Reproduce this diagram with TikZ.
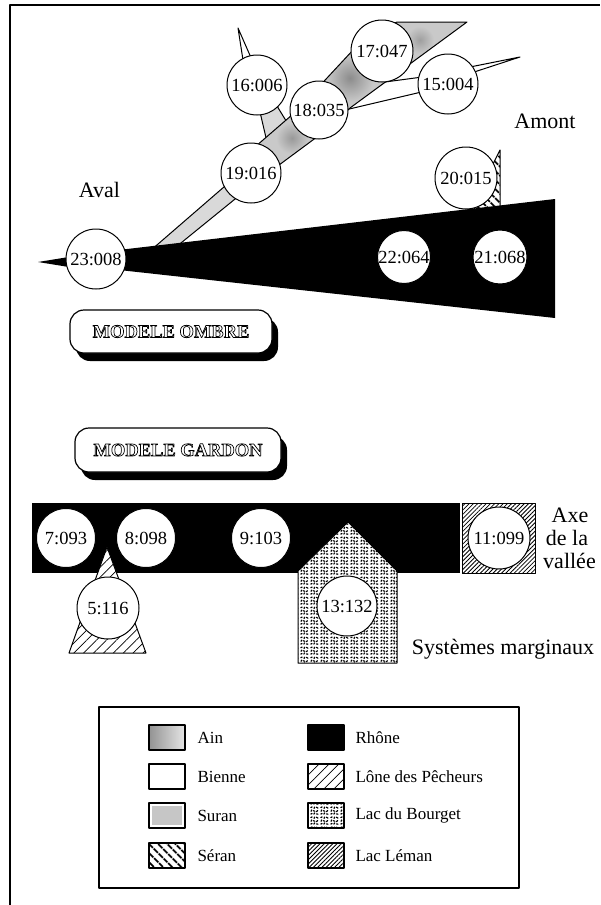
\documentclass[tikz,border=0pt]{standalone}
\usepackage{fontspec}
\setmainfont{Liberation Serif}
\usetikzlibrary{patterns.meta,shadows}

\tikzdeclarepattern{
  name=bourget,
  bounding box={(0pt,0pt) and (10pt,10pt)},
  tile size={(10pt,10pt)},
  code={
    \pgfsetlinewidth{1.3pt}
    \pgfsetroundcap
    \pgfpathmoveto{\pgfpoint{0.9pt}{1.0pt}}\pgfpathlineto{\pgfpoint{2.2pt}{1.6pt}}
    \pgfpathmoveto{\pgfpoint{4.2pt}{0.9pt}}\pgfpathlineto{\pgfpoint{4.9pt}{2.3pt}}
    \pgfpathmoveto{\pgfpoint{7.0pt}{1.2pt}}\pgfpathlineto{\pgfpoint{8.6pt}{0.9pt}}
    \pgfpathmoveto{\pgfpoint{1.2pt}{4.0pt}}\pgfpathlineto{\pgfpoint{1.8pt}{5.4pt}}
    \pgfpathmoveto{\pgfpoint{3.6pt}{4.6pt}}\pgfpathlineto{\pgfpoint{5.1pt}{4.1pt}}
    \pgfpathmoveto{\pgfpoint{6.9pt}{3.6pt}}\pgfpathlineto{\pgfpoint{8.2pt}{4.7pt}}
    \pgfpathmoveto{\pgfpoint{0.9pt}{8.0pt}}\pgfpathlineto{\pgfpoint{2.3pt}{8.6pt}}
    \pgfpathmoveto{\pgfpoint{4.4pt}{7.0pt}}\pgfpathlineto{\pgfpoint{4.9pt}{8.5pt}}
    \pgfpathmoveto{\pgfpoint{6.9pt}{8.4pt}}\pgfpathlineto{\pgfpoint{8.6pt}{7.4pt}}
    \pgfusepath{stroke}
  }
}

\newcommand\outlinetext[1]{\special{pdf:literal direct 1 Tr 0.7 w}#1\special{pdf:literal direct 0 Tr}}

\begin{document}
\begin{tikzpicture}[x=1pt,y=-1pt,line width=1pt,line join=round,
  circ/.style={circle,draw,fill=white,inner sep=0pt,font=\fontsize{18.5}{20}\selectfont},
  big/.style={font=\fontsize{22}{24}\selectfont,inner sep=0pt,anchor=base},
  engr/.style={font=\fontsize{18.5}{20}\selectfont\bfseries,inner sep=0pt},
  mbox/.style={rectangle,rounded corners=14pt,draw,fill=white,line width=1.2pt,inner sep=0pt,
     drop shadow={shadow xshift=6pt,shadow yshift=-8pt,fill=black,opacity=1}},
  lone/.style={preaction={fill=white},pattern={Lines[angle=45,distance=7pt,line width=0.7pt]}},
  seran/.style={preaction={fill=white},pattern={Lines[angle=-45,distance=6.5pt,line width=2.2pt]}},
  leman/.style={preaction={fill=white},pattern={Lines[angle=45,distance=3pt,line width=0.8pt]}},
  bourg/.style={preaction={fill=white},pattern=bourget},
  suran/.style={fill=gray!30},
  sw/.style={draw,line width=1.2pt,minimum width=36pt,minimum height=25pt,inner sep=0pt},
  leg/.style={font=\fontsize{17}{19}\selectfont,anchor=west,inner sep=0pt}]
\useasboundingbox (0,0) rectangle (600,905);

% frame
\draw[line width=1.2pt] (10,905) -- (10,5) -- (600,5);

% ---------- MODELE OMBRE (top) ----------
% Bienne band 15 -> 18
\draw[fill=white] (345,110) -- (385,82) -- (430,76) -- (430,90) -- cycle;
% Suran quad below 16
\draw[suran] (260,112) -- (267,142) -- (288,124) -- (277,106) -- cycle;
% Suran band 23 -> 19
\draw[suran] (150,251) -- (232,180) -- (240,195) -- (176,247) -- cycle;
% Ain
\begin{scope}
\clip (248,153) -- (300,108) -- (314,92) -- (367,35) -- (397,22) -- (467,22) -- (350,108) -- (325,131) -- (275,168) -- cycle;
\fill[gray!42] (240,10) rectangle (480,180);
\shade[inner color=gray!90,outer color=gray!42] (350,78) circle (24);
\shade[inner color=gray!80,outer color=gray!42] (292,138) circle (16);
\shade[inner color=gray!75,outer color=gray!42] (420,40) circle (14);
\end{scope}
\draw (248,153) -- (300,108) -- (314,92) -- (367,35) -- (397,22) -- (467,22) -- (350,108) -- (325,131) -- (275,168) -- cycle;
% Bienne spikes
\draw[fill=white] (465,68) -- (520,57) -- (465,75) -- cycle;
\draw[fill=white] (238,28) -- (243,60) -- (252,60) -- cycle;
% Seran
\draw[seran] (500,150) -- (500,215) -- (472,215) -- (484,182) -- cycle;
% Rhone wedge and left spike
\fill (110,251) -- (555,199) -- (555,318) -- (110,269) -- cycle;
\fill (38,262) -- (75,256) -- (75,268) -- cycle;

\node[circ,minimum size=60pt] (n23) at (96,259) {23:008};
\node[circ,minimum size=60pt] (n19) at (251,173) {19:016};
\node[circ,minimum size=60pt] (n16) at (257,85) {16:006};
\node[circ,minimum size=58pt] (n18) at (319,110) {18:035};
\node[circ,minimum size=62pt] (n17) at (382,51) {17:047};
\node[circ,minimum size=60pt] (n15) at (448,84) {15:004};
\node[circ,minimum size=62pt] (n20) at (466,178) {20:015};
\node[circ,minimum size=53pt] (n22) at (404,257) {22:064};
\node[circ,minimum size=54pt] (n21) at (500,257) {21:068};

\node[big] (aval) at (99.5,197) {Aval};
\node[big] (amont) at (545,128) {Amont};

% ---------- model boxes ----------
\node[mbox,minimum width=202pt,minimum height=43pt] (ombre) at (171,331.5) {};
\node[engr] (tombre) at (ombre.center) {\outlinetext{MODELE OMBRE}};
\node[mbox,minimum width=206pt,minimum height=44pt] (gardon) at (178,450) {};
\node[engr] (tgardon) at (gardon.center) {\outlinetext{MODELE GARDON}};

% ---------- MODELE GARDON (bottom) ----------
\fill (32,503) rectangle (460,573);
\draw[leman] (462,503) rectangle (535,573);
\draw[lone] (107,547) -- (146,653) -- (69,653) -- cycle;
\draw[bourg] (348,522) -- (397,571) -- (397,663) -- (298,663) -- (298,571) -- cycle;

\node[circ,minimum size=59pt] (n7) at (66,538) {7:093};
\node[circ,minimum size=59pt] (n8) at (146,538) {8:098};
\node[circ,minimum size=59pt] (n9) at (261,538) {9:103};
\node[circ,minimum size=62pt] (n5) at (108,608) {5:116};
\node[circ,minimum size=60pt] (n13) at (347,606) {13:132};
\node[circ,minimum size=62pt] (n11) at (499,538) {11:099};

\node[big] (axe) at (570,522) {Axe};
\node[big] (dela) at (567,545) {de la};
\node[big] (vallee) at (569.5,568) {vallée};
\node[big] (sysm) at (503,654) {Systèmes marginaux};

% ---------- legend ----------
\draw[line width=1.5pt] (99,707) rectangle (519,888);
\node[sw,left color=gray!85,right color=gray!20] (sAin) at (167,737.5) {};
\node[sw,fill=white] (sBie) at (167,776.5) {};
\node[sw,fill=white,path picture={\fill[gray!45] ([shift={(3pt,3pt)}]path picture bounding box.south west) rectangle ([shift={(-3pt,-3pt)}]path picture bounding box.north east);}] (sSur) at (167,815.5) {};
\node[sw,seran] (sSer) at (167,855.5) {};
\node[sw,fill=black] (sRho) at (326,737.5) {};
\node[sw,lone] (sLon) at (326,776.5) {};
\node[sw,bourg] (sBou) at (326,815.5) {};
\node[sw,leman] (sLem) at (326,855.5) {};

\node[leg] (lAin) at (197,737.5) {Ain};
\node[leg] (lBie) at (197,776.5) {Bienne};
\node[leg] (lSur) at (197,815.5) {Suran};
\node[leg] (lSer) at (197,855.5) {Séran};
\node[leg] (lRho) at (355,737.5) {Rhône};
\node[leg] (lLon) at (355,776.5) {Lône des Pêcheurs};
\node[leg] (lBou) at (355,815.5) {Lac du Bourget};
\node[leg] (lLem) at (355,855.5) {Lac Léman};
\end{tikzpicture}
\end{document}
